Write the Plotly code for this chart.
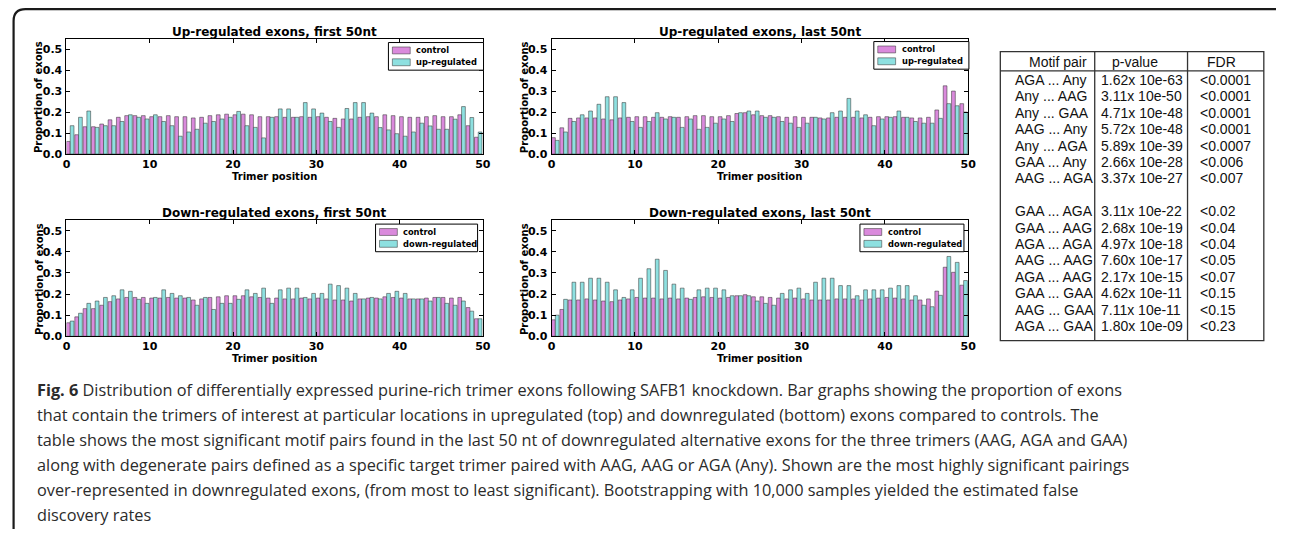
import plotly.graph_objects as go

W, H = 1292, 544          # size of the photographed window
PAGE_MARGIN = 8           # default body margin of the written page
FW, FH = W - 2 * PAGE_MARGIN, H - 2 * PAGE_MARGIN   # figure size so the page is exactly W x H

# ---------------- data ----------------
positions = list(range(50))

up_first_control = [0.060, 0.092, 0.130, 0.130, 0.143, 0.163, 0.175, 0.183, 0.183, 0.183,
                    0.178, 0.178, 0.183, 0.178, 0.178, 0.172, 0.175, 0.183, 0.187, 0.190,
                    0.187, 0.190, 0.187, 0.178, 0.178, 0.178, 0.175, 0.175, 0.178, 0.175,
                    0.178, 0.175, 0.170, 0.167, 0.167, 0.175, 0.178, 0.178, 0.187, 0.183,
                    0.178, 0.175, 0.175, 0.178, 0.183, 0.178, 0.178, 0.187, 0.135, 0.080]
up_first_regulated = [0.135, 0.175, 0.205, 0.127, 0.135, 0.135, 0.155, 0.187, 0.175, 0.167,
                      0.187, 0.155, 0.135, 0.085, 0.105, 0.118, 0.147, 0.155, 0.167, 0.175,
                      0.203, 0.135, 0.127, 0.077, 0.175, 0.215, 0.215, 0.175, 0.245, 0.215,
                      0.195, 0.155, 0.127, 0.217, 0.245, 0.245, 0.195, 0.126, 0.115, 0.097,
                      0.085, 0.105, 0.147, 0.134, 0.118, 0.118, 0.166, 0.226, 0.174, 0.105]

up_last_control = [0.078, 0.125, 0.170, 0.172, 0.172, 0.172, 0.167, 0.163, 0.172, 0.175,
                   0.178, 0.178, 0.175, 0.175, 0.178, 0.175, 0.178, 0.183, 0.183, 0.178,
                   0.178, 0.183, 0.193, 0.197, 0.187, 0.183, 0.183, 0.178, 0.175, 0.178,
                   0.175, 0.175, 0.172, 0.172, 0.175, 0.175, 0.175, 0.172, 0.175, 0.178,
                   0.178, 0.178, 0.175, 0.172, 0.172, 0.175, 0.210, 0.325, 0.300, 0.240]
up_last_regulated = [0.065, 0.105, 0.155, 0.187, 0.205, 0.237, 0.273, 0.273, 0.245, 0.155,
                     0.127, 0.155, 0.197, 0.167, 0.175, 0.127, 0.167, 0.118, 0.127, 0.147,
                     0.167, 0.155, 0.197, 0.205, 0.205, 0.175, 0.175, 0.155, 0.147, 0.127,
                     0.147, 0.175, 0.167, 0.197, 0.205, 0.265, 0.205, 0.187, 0.135, 0.167,
                     0.175, 0.205, 0.175, 0.155, 0.147, 0.147, 0.170, 0.240, 0.230, 0.200]

down_first_control = [0.064, 0.092, 0.131, 0.131, 0.147, 0.164, 0.177, 0.184, 0.184, 0.184,
                      0.181, 0.181, 0.184, 0.181, 0.181, 0.172, 0.177, 0.184, 0.187, 0.192,
                      0.192, 0.192, 0.187, 0.184, 0.181, 0.181, 0.177, 0.177, 0.181, 0.177,
                      0.181, 0.177, 0.172, 0.172, 0.167, 0.177, 0.181, 0.181, 0.187, 0.184,
                      0.181, 0.177, 0.177, 0.181, 0.184, 0.184, 0.181, 0.184, 0.136, 0.083]
down_first_regulated = [0.072, 0.109, 0.156, 0.167, 0.184, 0.192, 0.220, 0.213, 0.175, 0.156,
                        0.184, 0.220, 0.203, 0.192, 0.184, 0.147, 0.184, 0.127, 0.156, 0.156,
                        0.175, 0.220, 0.203, 0.228, 0.156, 0.220, 0.228, 0.228, 0.184, 0.203,
                        0.203, 0.247, 0.240, 0.228, 0.203, 0.177, 0.184, 0.177, 0.203, 0.213,
                        0.203, 0.177, 0.177, 0.167, 0.184, 0.156, 0.147, 0.167, 0.119, 0.083]

down_last_control = [0.078, 0.127, 0.172, 0.172, 0.177, 0.172, 0.167, 0.164, 0.172, 0.177,
                     0.184, 0.181, 0.181, 0.177, 0.181, 0.177, 0.181, 0.184, 0.187, 0.184,
                     0.181, 0.184, 0.192, 0.197, 0.187, 0.187, 0.184, 0.181, 0.177, 0.181,
                     0.177, 0.172, 0.172, 0.172, 0.177, 0.177, 0.177, 0.172, 0.177, 0.181,
                     0.184, 0.181, 0.177, 0.172, 0.172, 0.177, 0.214, 0.327, 0.303, 0.242]
down_last_regulated = [0.100, 0.175, 0.256, 0.256, 0.275, 0.275, 0.256, 0.220, 0.184, 0.220,
                       0.275, 0.320, 0.365, 0.312, 0.247, 0.228, 0.175, 0.220, 0.228, 0.228,
                       0.220, 0.192, 0.192, 0.192, 0.167, 0.156, 0.147, 0.203, 0.220, 0.228,
                       0.203, 0.256, 0.275, 0.275, 0.240, 0.240, 0.192, 0.220, 0.220, 0.220,
                       0.228, 0.240, 0.240, 0.192, 0.147, 0.140, 0.194, 0.378, 0.350, 0.264]

panel_titles = ["Up-regulated exons, first 50nt", "Up-regulated exons, last 50nt",
                "Down-regulated exons, first 50nt", "Down-regulated exons, last 50nt"]
series_names = ["control", "up-regulated", "control", "up-regulated",
                "control", "down-regulated", "control", "down-regulated"]
x_ticks = [0, 10, 20, 30, 40, 50]
y_ticks = [0.0, 0.1, 0.2, 0.3, 0.4, 0.5]
x_title = "Trimer position"
y_title = "Proportion of exons"

table_header = ["Motif pair", "p-value", "FDR"]
motif_pairs = ["AGA ... Any", "Any ... AAG", "Any ... GAA", "AAG ... Any", "Any ... AGA",
               "GAA ... Any", "AAG ... AGA",
               "GAA ... AGA", "GAA ... AAG", "AGA ... AGA", "AAG ... AAG", "AGA ... AAG",
               "GAA ... GAA", "AAG ... GAA", "AGA ... GAA"]
p_values = ["1.62x 10e-63", "3.11x 10e-50", "4.71x 10e-48", "5.72x 10e-48", "5.89x 10e-39",
            "2.66x 10e-28", "3.37x 10e-27",
            "3.11x 10e-22", "2.68x 10e-19", "4.97x 10e-18", "7.60x 10e-17", "2.17x 10e-15",
            "4.62x 10e-11", "7.11x 10e-11", "1.80x 10e-09"]
fdr_values = ["<0.0001", "<0.0001", "<0.0001", "<0.0001", "<0.0007", "<0.006", "<0.007",
              "<0.02", "<0.04", "<0.04", "<0.05", "<0.07", "<0.15", "<0.15", "<0.23"]
first_group_size = 7

caption_lines = [
    "<b>Fig. 6</b> Distribution of differentially expressed purine-rich trimer exons following SAFB1 knockdown. Bar graphs showing the proportion of exons",
    "that contain the trimers of interest at particular locations in upregulated (top) and downregulated (bottom) exons compared to controls. The",
    "table shows the most significant motif pairs found in the last 50 nt of downregulated alternative exons for the three trimers (AAG, AGA and GAA)",
    "along with degenerate pairs defined as a specific target trimer paired with AAG, AAG or AGA (Any). Shown are the most highly significant pairings",
    "over-represented in downregulated exons, (from most to least significant). Bootstrapping with 10,000 samples yielded the estimated false",
    "discovery rates",
]

# ---------------- styling / layout helpers ----------------
CTRL_COLOR = "#DA8ADC"
REG_COLOR = "#8EE0E0"
EDGE = "rgba(50,50,50,0.75)"
MPL_FONT = "DejaVu Sans"
TAB_FONT = "Liberation Sans"
CAP_FONT = "Open Sans"


def fx(px):
    """window pixel x -> paper fraction"""
    return (px - PAGE_MARGIN) / FW


def fy(py):
    """window pixel y (from top) -> paper fraction"""
    return 1 - (py - PAGE_MARGIN) / FH


# panel boxes in window pixels: (left, right, top, bottom)
panel_boxes = [(63, 483.3, 39, 156), (552.7, 973.3, 39, 156),
               (63, 483.3, 223, 340.7), (552.7, 973.3, 223, 340.7)]
legend_boxes = [(388, 484, 43, 71), (878, 974, 42, 70),
                (375, 478, 227, 255), (864, 969, 227, 255)]

panel_series = [(up_first_control, up_first_regulated),
                (up_last_control, up_last_regulated),
                (down_first_control, down_first_regulated),
                (down_last_control, down_last_regulated)]

fig = go.Figure()
annotations = []
shapes = []

for k, (ctrl, reg) in enumerate(panel_series):
    xa = "x" if k == 0 else f"x{k + 1}"
    ya = "y" if k == 0 else f"y{k + 1}"
    for vals, color, offset, name in ((ctrl, CTRL_COLOR, 0.0, series_names[2 * k]),
                                      (reg, REG_COLOR, 0.45, series_names[2 * k + 1])):
        fig.add_trace(go.Bar(
            x=positions, y=vals, width=0.45, offset=offset, name=name,
            marker=dict(color=color, line=dict(color=EDGE, width=0.7)),
            xaxis=xa, yaxis=ya, showlegend=False,
        ))
    left, right, top, bottom = panel_boxes[k]
    axis_common = dict(ticks="inside", ticklen=4, tickwidth=1, tickcolor="black",
                       showline=True, linecolor="black", linewidth=1, mirror="ticks",
                       showgrid=False, zeroline=False,
                       tickfont=dict(family=MPL_FONT, size=11, color="black", weight="bold"))
    xkey = "xaxis" if k == 0 else f"xaxis{k + 1}"
    ykey = "yaxis" if k == 0 else f"yaxis{k + 1}"
    fig.update_layout({
        xkey: dict(domain=[fx(left), fx(right)], range=[0, 50], tickvals=x_ticks,
                   anchor=ya, ticklabelstandoff=0, **axis_common),
        ykey: dict(domain=[fy(bottom), fy(top)], range=[0, 0.55], tickvals=y_ticks,
                   tickformat=".1f", anchor=xa, ticklabelstandoff=1, **axis_common),
    })
    # title
    annotations.append(dict(text=f"<b>{panel_titles[k]}</b>", x=fx((left + right) / 2),
                            y=fy(top - 7), xref="paper", yref="paper", showarrow=False,
                            xanchor="center", yanchor="middle",
                            font=dict(family=MPL_FONT, size=12, color="black")))
    # axis titles
    annotations.append(dict(text=f"<b>{x_title}</b>", x=fx((left + right) / 2),
                            y=fy(bottom + 23), xref="paper", yref="paper", showarrow=False,
                            xanchor="center", yanchor="middle",
                            font=dict(family=MPL_FONT, size=10, color="black")))
    annotations.append(dict(text=f"<b>{y_title}</b>", x=fx(left - 28),
                            y=fy((top + bottom) / 2 + 1), xref="paper", yref="paper",
                            showarrow=False, textangle=-90,
                            xanchor="center", yanchor="middle",
                            font=dict(family=MPL_FONT, size=10, color="black")))
    # legend (drawn)
    lx0, lx1, ly0, ly1 = legend_boxes[k]
    shapes.append(dict(type="rect", xref="paper", yref="paper",
                       x0=fx(lx0), x1=fx(lx1), y0=fy(ly1), y1=fy(ly0),
                       line=dict(color="black", width=1), fillcolor="white"))
    for j, (color, name) in enumerate(((CTRL_COLOR, series_names[2 * k]),
                                       (REG_COLOR, series_names[2 * k + 1]))):
        cy = ly0 + 8 + 12 * j
        shapes.append(dict(type="rect", xref="paper", yref="paper",
                           x0=fx(lx0 + 4), x1=fx(lx0 + 22), y0=fy(cy + 3.5), y1=fy(cy - 3.5),
                           line=dict(color=EDGE, width=0.7), fillcolor=color))
        annotations.append(dict(text=f"<b>{name}</b>", x=fx(lx0 + 26), y=fy(cy),
                                xref="paper", yref="paper", showarrow=False,
                                xanchor="left", yanchor="middle",
                                font=dict(family=MPL_FONT, size=8.3, color="black")))

# ---------------- table ----------------
tx0, tx1, ty0, ty1 = 1005.7, 1271.7, 52.3, 345
col1, col2 = 1101, 1194.7
header_line = 71.7
TLINE = dict(color="#333333", width=1.3)
shapes.append(dict(type="rect", xref="paper", yref="paper", x0=fx(tx0), x1=fx(tx1),
                   y0=fy(ty1), y1=fy(ty0), line=TLINE))
shapes.append(dict(type="line", xref="paper", yref="paper", x0=fx(tx0), x1=fx(tx1),
                   y0=fy(header_line), y1=fy(header_line), line=TLINE))
for cx in (col1, col2):
    shapes.append(dict(type="line", xref="paper", yref="paper", x0=fx(cx), x1=fx(cx),
                       y0=fy(ty1), y1=fy(ty0), line=TLINE))

TFONT = dict(family=TAB_FONT, size=14, color="#111111")
for text, cx in zip(table_header, (1063.5, 1141.5, 1229)):
    annotations.append(dict(text=text, x=fx(cx), y=fy(63), xref="paper", yref="paper",
                            showarrow=False, xanchor="center", yanchor="middle", font=TFONT))
row_gap = 16.62
for i, (m, p, f) in enumerate(zip(motif_pairs, p_values, fdr_values)):
    r = i if i < first_group_size else i + 1
    cy = 81 + row_gap * r
    for text, lx in ((m, 1018), (p, 1105), (f, 1205.5)):
        annotations.append(dict(text=text, x=fx(lx), y=fy(cy), xref="paper", yref="paper",
                                showarrow=False, xanchor="left", yanchor="middle", font=TFONT))

# ---------------- caption ----------------
for i, line in enumerate(caption_lines):
    annotations.append(dict(text=line, x=fx(31), y=fy(395 + 25.3 * i), xref="paper",
                            yref="paper", showarrow=False, xanchor="left", yanchor="middle",
                            font=dict(family=CAP_FONT, size=16.3, color="#2b2b2b")))

# ---------------- frame (top-left rounded corner, runs off right & bottom) ----------------
r = 12
bx0, by0 = 9.6, 9.2
bx_end, by_end = PAGE_MARGIN + FW, PAGE_MARGIN + FH
path = (f"M {fx(bx0)} {fy(by_end)} L {fx(bx0)} {fy(by0 + r)} "
        f"Q {fx(bx0)} {fy(by0)} {fx(bx0 + r)} {fy(by0)} "
        f"L {fx(bx_end)} {fy(by0)}")
shapes.append(dict(type="path", xref="paper", yref="paper", path=path,
                   line=dict(color="#1a1a1a", width=2.2)))

fig.update_layout(
    width=FW, height=FH, margin=dict(l=0, r=0, t=0, b=0),
    paper_bgcolor="white", plot_bgcolor="white",
    barmode="overlay", showlegend=False, hovermode=False,
    annotations=annotations, shapes=shapes,
)

fig.write_html("out.html", config={"displayModeBar": False})
